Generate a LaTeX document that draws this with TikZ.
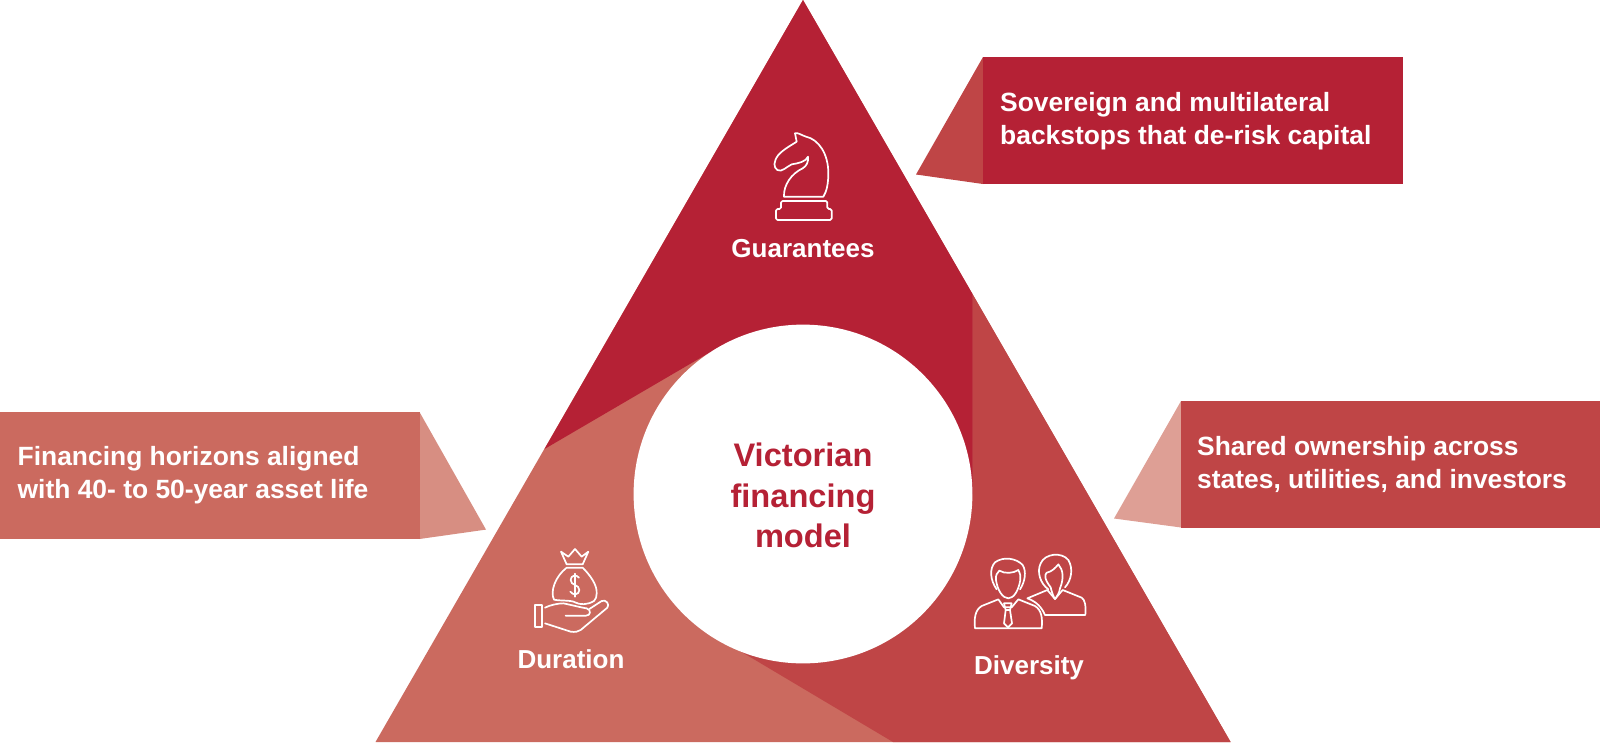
\documentclass[tikz,border=0pt]{standalone}
\usepackage{fontspec}
\setmainfont{Liberation Sans}
\definecolor{cdark}{HTML}{B52135}
\definecolor{cmid}{HTML}{BF4546}
\definecolor{clight}{HTML}{CB6A5F}
\definecolor{fmid}{HTML}{DE9F95}
\definecolor{flight}{HTML}{D78E82}
\tikzset{
  lbl/.style={anchor=base,inner sep=0pt,text=white,font=\fontsize{26}{26}\selectfont\bfseries},
  ctr/.style={anchor=base,inner sep=0pt,text=cdark,font=\fontsize{32.6}{32.6}\selectfont\bfseries},
  call/.style={anchor=base west,inner sep=0pt,text=white,font=\fontsize{26.4}{26.4}\selectfont\bfseries},
  icon/.style={draw=white,line width=1.7pt,line join=round,line cap=round,fill=none}
}
\begin{document}
\begin{tikzpicture}[x=1pt,y=-1pt]
\useasboundingbox (0,0) rectangle (1600,742);
% pyramid
\fill[clight] (803,0) -- (1230.6,742) -- (375.5,742) -- cycle;
\fill[cmid] (972.5,294) -- (1230.6,742) -- (893,742) -- (735,648) -- (803,494) -- (972.5,494) -- cycle;
\fill[cdark] (803,0) -- (972.5,294) -- (972.5,494) -- (803,494) -- (707,354) -- (544.5,449) -- cycle;
\fill[white] (803,494) circle[radius=169.4];
% callouts
\fill[cmid] (983,57) -- (916,174.5) -- (983,184) -- cycle;
\fill[cdark] (983,57) rectangle (1403,184);
\fill[fmid] (1181,401) -- (1114,518.5) -- (1181,527.5) -- cycle;
\fill[cmid] (1181,401) rectangle (1600,527.5);
\fill[flight] (419.5,412) -- (486,529.6) -- (419.5,539) -- cycle;
\fill[clight] (0,412) rectangle (419.5,539);
% texts
\node[call] (t1a) at (1000,111) {Sovereign and multilateral};
\node[call] (t1b) at (1000,144) {backstops that de-risk capital};
\node[call] (t2a) at (1197,455) {Shared ownership across};
\node[call] (t2b) at (1197,488) {states, utilities, and investors};
\node[call] (t3a) at (17.5,465) {Financing horizons aligned};
\node[call] (t3b) at (17.5,498) {with 40- to 50-year asset life};
\node[lbl] (g) at (803,257) {Guarantees};
\node[lbl] (du) at (571,668) {Duration};
\node[lbl] (di) at (1029,674) {Diversity};
\node[ctr] (c1) at (803,466) {Victorian};
\node[ctr] (c2) at (803,507) {financing};
\node[ctr] (c3) at (803,547) {model};
% knight
\begin{scope}[shift={(720,110)},scale=1/3]
\draw[icon] (225,70) .. controls (232,66) and (245,76) .. (258,80) .. controls (295,88) and (325,130) .. (325,190) .. controls (325,220) and (320,245) .. (310,260) -- (192,260) .. controls (190,225) and (215,190) .. (248,175) .. controls (260,168) and (266,155) .. (264,140) .. controls (258,155) and (235,160) .. (215,163) .. controls (200,170) and (185,188) .. (172,180) .. controls (160,172) and (160,155) .. (175,135) .. controls (190,118) and (215,105) .. (230,95) -- cycle;
\draw[icon,rounded corners=1.5pt] (183,297) -- (183,273) -- (322,273) -- (322,297) -- (335,297) -- (335,330) -- (168,330) -- (168,297) -- cycle;
\end{scope}
% money bag and hand
\begin{scope}[shift={(500,525)},scale=1/3]
\draw[icon] (183,80) -- (205,95) -- (225,72) -- (245,95) -- (265,80) -- (248,118) -- (200,118) -- cycle;
\draw[icon] (200,128) -- (248,128) .. controls (270,150) and (292,180) .. (290,205) .. controls (290,215) and (288,222) .. (282,228) .. controls (262,240) and (240,240) .. (225,232) .. controls (215,225) and (180,228) .. (162,224) .. controls (150,200) and (165,155) .. (200,128);
\draw[icon] (237,158) .. controls (230,148) and (212,150) .. (212,165) .. controls (212,182) and (238,178) .. (238,195) .. controls (238,210) and (218,212) .. (211,200);
\draw[icon] (225,146) -- (225,215);
\draw[icon] (104,240) rectangle (126,306);
\draw[icon] (135,248) .. controls (150,240) and (175,235) .. (190,235) .. controls (215,240) and (245,248) .. (260,250) .. controls (275,255) and (272,272) .. (258,272) -- (197,272);
\draw[icon] (135,295) -- (212,320) .. controls (225,322) and (235,320) .. (242,315) -- (322,248) .. controls (330,238) and (318,222) .. (305,228) -- (268,252);
\end{scope}
% people
\begin{scope}[shift={(940,530)},scale=1/3]
\draw[icon] (170,178) .. controls (150,150) and (148,115) .. (165,97) .. controls (190,78) and (230,85) .. (248,105) .. controls (260,125) and (255,155) .. (240,178);
\draw[icon] (168,150) .. controls (166,135) and (172,128) .. (178,122) .. controls (195,132) and (220,130) .. (235,120) .. controls (240,130) and (243,140) .. (241,150) .. controls (236,180) and (222,205) .. (205,205) .. controls (188,205) and (172,180) .. (168,150);
\draw[icon] (105,295) -- (305,295) .. controls (308,265) and (305,240) .. (285,228) -- (235,208) -- (215,232) -- (192,232) -- (175,208) -- (125,228) .. controls (105,240) and (102,265) .. (105,295);
\draw[icon] (192,220) -- (215,220) -- (210,240) -- (197,240) -- cycle;
\draw[icon] (197,240) -- (192,280) -- (204,292) -- (216,280) -- (210,240);
\draw[icon] (325,178) .. controls (300,160) and (290,125) .. (302,100) .. controls (315,70) and (365,65) .. (385,90) .. controls (400,115) and (395,150) .. (375,172);
\draw[icon] (332,172) .. controls (315,150) and (312,135) .. (320,128) .. controls (335,125) and (345,115) .. (355,103) .. controls (370,120) and (372,145) .. (360,175) .. controls (358,190) and (350,200) .. (345,207) .. controls (340,200) and (335,185) .. (332,172);
\draw[icon] (262,205) -- (322,180) -- (345,207) -- (368,180) -- (425,203) .. controls (435,210) and (438,225) .. (436,255) -- (315,255) .. controls (305,232) and (290,215) .. (262,205);
\end{scope}
\end{tikzpicture}
\end{document}
